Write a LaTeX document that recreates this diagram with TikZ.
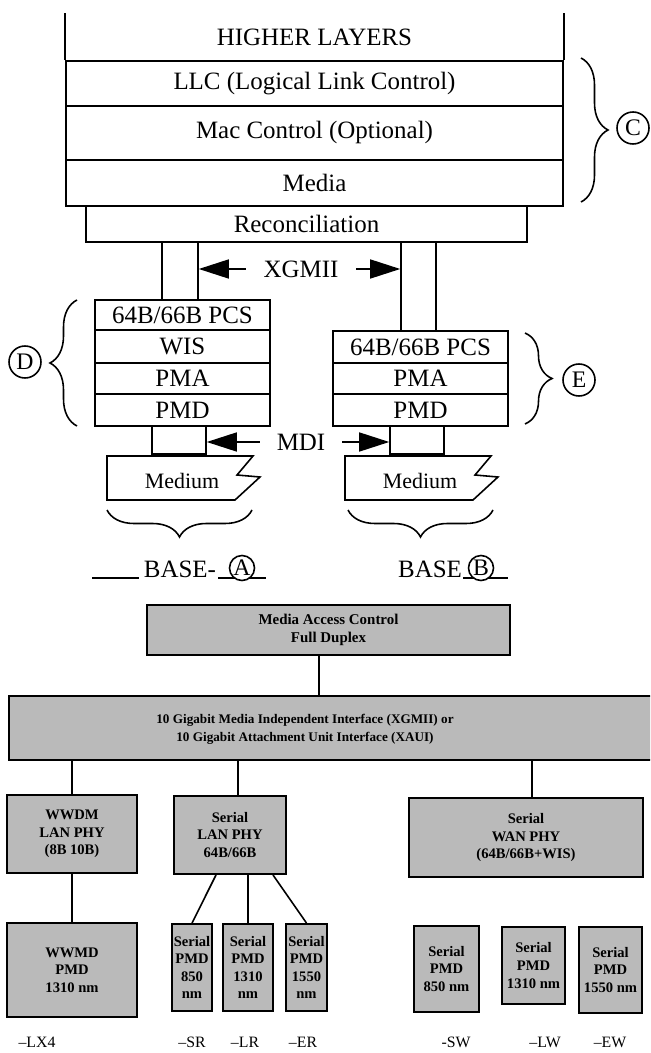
\documentclass[tikz,border=0pt]{standalone}
\usepackage{fontspec}
\setmainfont{Liberation Serif}
\usetikzlibrary{arrows.meta,decorations.pathreplacing}

\tikzset{
  dims/.style 2 args={minimum width=#1*0.02cm, minimum height=#2*0.02cm},
  big/.style={font=\fontsize{14.2}{16}\selectfont},
  layer/.style={draw, line width=0.9pt, inner sep=0pt, big},
  gbox/.style={draw, line width=1.1pt, fill=black!27, inner sep=0pt, align=center,
    font=\bfseries\fontsize{8.3}{10}\selectfont},
  circled/.style={draw, circle, line width=0.9pt, inner sep=0pt,
    minimum size=#1*0.02cm, font=\fontsize{13.5}{13.5}\selectfont},
  brc/.style={decorate, decoration={brace, amplitude=0.54cm}, line width=0.9pt},
  suffix/.style={font=\fontsize{9}{10}\selectfont}
}

\begin{document}
\begin{tikzpicture}[x=0.02cm, y=-0.02cm, line width=0.9pt,
  >={Triangle[length=0.6cm,width=0.38cm]}]
\useasboundingbox (0,0) rectangle (650,1053);
\clip (0,0) rectangle (650,1053);

% layer stack
\node[big] (higher) at (314.5,37) {HIGHER LAYERS};
\node[layer, dims={497}{45}] (llc) at (314.5,83.5) {LLC (Logical Link Control)};
\node[layer, dims={497}{54}] (macctl) at (314.5,133) {Mac Control (Optional)};
\node[layer, dims={497}{46}] (media) at (314.5,183) {Media};
\draw (llc.north west) -- ++(0,-47);
\draw (llc.north east) -- ++(0,-47);
\node[layer, dims={441}{36}] (recon) at (306.5,224) {Reconciliation};

\node[layer, dims={36}{58}] (xl) at (180,271) {};
\node[layer, dims={35}{89}] (xr) at (418.5,286.5) {};
\node[big, inner xsep=0.34cm] (xgmii) at (301,269) {XGMII};
\draw[->] (xgmii) -- (xgmii -| xl.east);
\draw[->] (xgmii) -- (xgmii -| xr.west);

% PHY stacks
\node[layer, dims={175}{30}] (pcsl) at (182.5,315) {64B/66B PCS};
\node[layer, dims={175}{33}] (wis) at (182.5,346.5) {WIS};
\node[layer, dims={175}{31}] (pmal) at (182.5,378.5) {PMA};
\node[layer, dims={175}{32}] (pmdl) at (182.5,410) {PMD};

\node[layer, dims={175}{32}] (pcsr) at (420.5,347) {64B/66B PCS};
\node[layer, dims={175}{31}] (pmar) at (420.5,378.5) {PMA};
\node[layer, dims={175}{32}] (pmdr) at (420.5,410) {PMD};

\node[layer, dims={54}{28}] (mdil) at (179,440) {};
\node[layer, dims={54}{28}] (mdir) at (417,440) {};
\node[big, inner xsep=0.32cm] (mdi) at (301,442) {MDI};
\draw[->] (mdi) -- (mdi -| mdil.east);
\draw[->] (mdi) -- (mdi -| mdir.west);

\foreach \mx/\nm in {0/medl, 238/medr}{
  \draw (107+\mx,456) -- (253+\mx,456) -- (237+\mx,475) -- (260+\mx,477)
    -- (235+\mx,500) -- (107+\mx,500) -- cycle;
  \node[font=\fontsize{12.5}{14}\selectfont] (\nm) at (182+\mx,481) {Medium};
}

% braces and letters
\draw[brc] (581,58) -- (581,202);
\draw[brc] (77,426) -- (77,300);
\draw[brc] (525,333) -- (525,424);
\draw[brc] (252,510) -- (107,510);
\draw[brc] (493,510) -- (348,510);
\node[circled=32] (cC) at (633,128) {C};
\node[circled=32] (cD) at (25,362) {D};
\node[circled=32] (cE) at (579,380) {E};

\draw (92,578) -- (139,578);
\node[big, inner sep=0pt] (basel) at (180,569) {BASE-};
\draw (218,578) -- (266,578);
\node[circled=25, fill=white] (cA) at (242,568) {A};
\node[big, inner sep=0pt] (baser) at (430,569) {BASE};
\draw (463,578) -- (508,578);
\node[circled=25, fill=white] (cB) at (481,568) {B};

% 10 gigabit family
\node[gbox, dims={363}{50}, font=\bfseries\fontsize{8.5}{10.2}\selectfont] (mac)
  at (328.5,630) {Media Access Control\\Full Duplex};
\node[gbox, dims={660}{64}] (ten) at (339,728) {};
\node[align=center, font=\bfseries\fontsize{7.5}{10.2}\selectfont] (tentxt) at (305,729)
  {10 Gigabit Media Independent Interface (XGMII) or\\10 Gigabit Attachment Unit Interface (XAUI)};

\node[gbox, dims={130}{78}] (wwdm) at (72,834) {WWDM\\LAN PHY\\(8B 10B)};
\node[gbox, dims={112}{78}] (lanphy) at (230,835) {Serial\\LAN PHY\\64B/66B};
\node[gbox, dims={234}{79}] (wanphy) at (526,837.5) {Serial\\WAN PHY\\(64B/66B+WIS)};

\node[gbox, dims={130}{94}] (wwmd) at (72,970) {WWMD\\PMD\\1310 nm};
\node[gbox, dims={40}{87}] (sr) at (192,967.5) {Serial\\PMD\\850\\nm};
\node[gbox, dims={50}{87}] (lr) at (248,967.5) {Serial\\PMD\\1310\\nm};
\node[gbox, dims={41}{87}] (er) at (306.5,967.5) {Serial\\PMD\\1550\\nm};
\node[gbox, dims={65}{86}] (sw) at (446.5,969) {Serial\\PMD\\850 nm};
\node[gbox, dims={63}{77}] (lw) at (533.5,965.5) {Serial\\PMD\\1310 nm};
\node[gbox, dims={63}{86}] (ew) at (610.5,970) {Serial\\PMD\\1550 nm};

\coordinate (macx) at (319,0);
\coordinate (lanx) at (238,0);
\coordinate (wanx) at (532,0);
\draw (mac.south -| macx) -- (ten.north -| macx);
\draw (ten.south -| wwdm.north) -- (wwdm.north);
\draw (ten.south -| lanx) -- (lanphy.north -| lanx);
\draw (ten.south -| wanx) -- (wanphy.north -| wanx);
\draw (wwdm.south) -- (wwmd.north);
\draw ([xshift=-0.28cm]lanphy.south) -- (sr.north);
\draw (lanphy.south -| lr.north) -- (lr.north);
\draw ([xshift=0.86cm]lanphy.south) -- (er.north);

\node[suffix] (lx4) at (37,1042) {--LX4};
\node[suffix] (srl) at (192,1042) {--SR};
\node[suffix] (lrl) at (245,1042) {--LR};
\node[suffix] (erl) at (303,1042) {--ER};
\node[suffix] (swl) at (456,1042) {-SW};
\node[suffix] (lwl) at (545,1042) {--LW};
\node[suffix] (ewl) at (610,1042) {--EW};
\end{tikzpicture}
\end{document}
